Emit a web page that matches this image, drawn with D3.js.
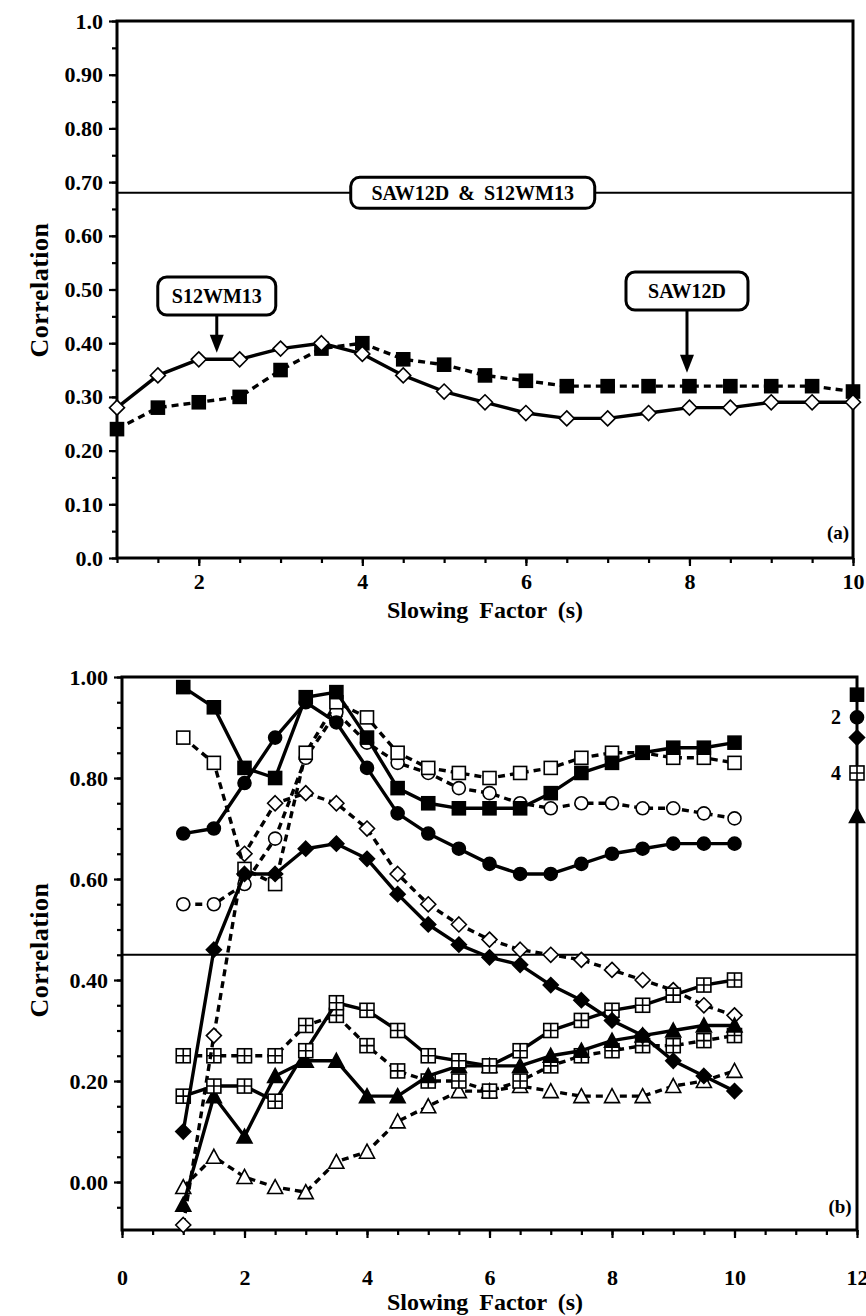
<!DOCTYPE html>
<html>
<head>
<meta charset="utf-8">
<script src="https://cdn.jsdelivr.net/npm/d3@7"></script>
<style>
  body { margin: 0; background: #fff; }
  svg text { font-family: "Liberation Serif", "DejaVu Serif", serif; font-weight: bold; fill: #000; }
</style>
</head>
<body>
<script>
// ---- data ----
var slowing = [1, 1.5, 2, 2.5, 3, 3.5, 4, 4.5, 5, 5.5, 6, 6.5, 7, 7.5, 8, 8.5, 9, 9.5, 10];

// panel (a)
var saw12d  = [0.24, 0.28, 0.29, 0.30, 0.35, 0.39, 0.40, 0.37, 0.36, 0.34, 0.33, 0.32, 0.32, 0.32, 0.32, 0.32, 0.32, 0.32, 0.31];
var s12wm13 = [0.28, 0.34, 0.37, 0.37, 0.39, 0.40, 0.38, 0.34, 0.31, 0.29, 0.27, 0.26, 0.26, 0.27, 0.28, 0.28, 0.29, 0.29, 0.29];
var bothLevel = 0.68;
var topYTicks = [0, 0.1, 0.2, 0.3, 0.4, 0.5, 0.6, 0.7, 0.8, 0.9, 1.0];
var topXTicks = [2, 4, 6, 8, 10];

// panel (b)
var filledSq   = [0.98, 0.94, 0.82, 0.80, 0.96, 0.97, 0.88, 0.78, 0.75, 0.74, 0.74, 0.74, 0.77, 0.81, 0.83, 0.85, 0.86, 0.86, 0.87];
var openSq     = [0.88, 0.83, 0.62, 0.59, 0.85, 0.95, 0.92, 0.85, 0.82, 0.81, 0.80, 0.81, 0.82, 0.84, 0.85, 0.85, 0.84, 0.84, 0.83];
var filledCirc = [0.69, 0.70, 0.79, 0.88, 0.95, 0.91, 0.82, 0.73, 0.69, 0.66, 0.63, 0.61, 0.61, 0.63, 0.65, 0.66, 0.67, 0.67, 0.67];
var openCirc   = [0.55, 0.55, 0.59, 0.68, 0.84, 0.93, 0.87, 0.83, 0.81, 0.78, 0.77, 0.75, 0.74, 0.75, 0.75, 0.74, 0.74, 0.73, 0.72];
var filledDia  = [0.10, 0.46, 0.61, 0.61, 0.66, 0.67, 0.64, 0.57, 0.51, 0.47, 0.445, 0.43, 0.39, 0.36, 0.32, 0.29, 0.24, 0.21, 0.18];
var openDia    = [-0.085, 0.29, 0.65, 0.75, 0.77, 0.75, 0.70, 0.61, 0.55, 0.51, 0.48, 0.46, 0.45, 0.44, 0.42, 0.40, 0.38, 0.35, 0.33];
var crossSolid = [0.17, 0.19, 0.19, 0.16, 0.26, 0.355, 0.34, 0.30, 0.25, 0.24, 0.23, 0.26, 0.30, 0.32, 0.34, 0.35, 0.37, 0.39, 0.40];
var crossDash  = [0.25, 0.25, 0.25, 0.25, 0.31, 0.33, 0.27, 0.22, 0.20, 0.20, 0.18, 0.20, 0.23, 0.25, 0.26, 0.27, 0.27, 0.28, 0.29];
var filledTri  = [-0.045, 0.17, 0.09, 0.21, 0.24, 0.24, 0.17, 0.17, 0.21, 0.23, 0.23, 0.23, 0.25, 0.26, 0.28, 0.29, 0.30, 0.31, 0.31];
var openTri    = [-0.01, 0.05, 0.01, -0.01, -0.02, 0.04, 0.06, 0.12, 0.15, 0.18, 0.18, 0.19, 0.18, 0.17, 0.17, 0.17, 0.19, 0.20, 0.22];
var refLevel = 0.45;
var botYTicks = [0, 0.2, 0.4, 0.6, 0.8, 1.0];
var botXTicks = [0, 2, 4, 6, 8, 10, 12];

// markers standing on the right edge of panel (b)
var edgeValues = [0.965, 0.92, 0.88, 0.81, 0.725];
var edgeShapes = ["sqFill", "circFill", "diaFill", "cross", "triFill"];
var edgeLabels = ["", "2", "", "4", ""];

// ---- page ----
var svg = d3.select("body").append("svg").attr("width", 866).attr("height", 1316);

function marker(g, type, x, y) {
    if (type == "sqFill" || type == "sqOpen") {
        g.append("rect").attr("x", x - 6.5).attr("y", y - 6.5).attr("width", 13).attr("height", 13)
            .attr("fill", type == "sqFill" ? "#000" : "#fff").attr("stroke", "#000").attr("stroke-width", 1.6);
    } else if (type == "circFill" || type == "circOpen") {
        g.append("circle").attr("cx", x).attr("cy", y).attr("r", 6.5)
            .attr("fill", type == "circFill" ? "#000" : "#fff").attr("stroke", "#000").attr("stroke-width", 1.6);
    } else if (type == "diaFill" || type == "diaOpen") {
        var r = 7.5;
        g.append("path").attr("d", "M" + x + "," + (y - r) + "L" + (x + r) + "," + y + "L" + x + "," + (y + r) + "L" + (x - r) + "," + y + "Z")
            .attr("fill", type == "diaFill" ? "#000" : "#fff").attr("stroke", "#000").attr("stroke-width", 1.6);
    } else if (type == "triFill" || type == "triOpen") {
        var h = 13, w = 15;
        g.append("path").attr("d", "M" + x + "," + (y - h / 2 - 1) + "L" + (x + w / 2) + "," + (y + h / 2) + "L" + (x - w / 2) + "," + (y + h / 2) + "Z")
            .attr("fill", type == "triFill" ? "#000" : "#fff").attr("stroke", "#000").attr("stroke-width", 1.6);
    } else if (type == "cross") {
        g.append("rect").attr("x", x - 7).attr("y", y - 7).attr("width", 14).attr("height", 14)
            .attr("fill", "#fff").attr("stroke", "#000").attr("stroke-width", 1.6);
        g.append("path").attr("d", "M" + (x - 7) + "," + y + "H" + (x + 7) + "M" + x + "," + (y - 7) + "V" + (y + 7))
            .attr("stroke", "#000").attr("stroke-width", 1.6);
    }
}

function series(g, x, y, values, type, dashed) {
    var pts = slowing.map(function(s, i) { return [x(s), y(values[i])]; });
    g.append("path")
        .attr("d", d3.line()(pts))
        .attr("fill", "none")
        .attr("stroke", "#000")
        .attr("stroke-width", 3.4)
        .attr("stroke-linejoin", "round")
        .attr("stroke-dasharray", dashed ? "7,5" : null);
    pts.forEach(function(p) { marker(g, type, p[0], p[1]); });
}

function frame(x, y, yMajor, yMinor, xMajor, xMinor, yFmt, labelGap) {
    var r = x.range(), d = y.range();
    var g = svg.append("g");
    // left axis with minor ticks
    g.append("g").attr("transform", "translate(" + r[0] + ",0)")
        .call(d3.axisLeft(y).tickValues(yMinor).tickSize(5).tickFormat(""));
    g.append("g").attr("transform", "translate(" + r[0] + ",0)")
        .call(d3.axisLeft(y).tickValues(yMajor).tickSize(8).tickPadding(6).tickFormat(yFmt));
    // bottom axis
    g.append("g").attr("transform", "translate(0," + d[0] + ")")
        .call(d3.axisBottom(x).tickValues(xMinor).tickSize(5).tickFormat(""));
    g.append("g").attr("transform", "translate(0," + d[0] + ")")
        .call(d3.axisBottom(x).tickValues(xMajor).tickSize(8).tickPadding(labelGap).tickFormat(d3.format("d")));
    g.selectAll(".domain").remove();
    g.selectAll(".tick line").attr("stroke", "#000").attr("stroke-width", 2.2);
    g.selectAll(".tick text").style("font-size", "22px");
    // box
    g.append("rect").attr("x", r[0]).attr("y", d[1]).attr("width", r[1] - r[0]).attr("height", d[0] - d[1])
        .attr("fill", "none").attr("stroke", "#000").attr("stroke-width", 3);
    return g;
}

function range(a, b, step) {
    var out = [];
    for (var v = a; v <= b + 1e-9; v += step) out.push(+v.toFixed(3));
    return out;
}

// ---- panel (a) ----
var xa = d3.scaleLinear().domain([1, 10]).range([117, 853]);
var ya = d3.scaleLinear().domain([0, 1]).range([558, 21]);

frame(xa, ya, topYTicks, range(0, 1, 0.05), topXTicks, range(1, 10, 0.5),
    function(d) { return (d == 0 || d == 1) ? d.toFixed(1) : d.toFixed(2); }, 7);

svg.append("line").attr("x1", xa(1)).attr("x2", xa(10)).attr("y1", ya(bothLevel)).attr("y2", ya(bothLevel))
    .attr("stroke", "#000").attr("stroke-width", 2);

var ga = svg.append("g");
series(ga, xa, ya, saw12d, "sqFill", true);
series(ga, xa, ya, s12wm13, "diaOpen", false);

function callout(cx, cy, w, h, label, arrowTo) {
    if (arrowTo) {
        svg.append("line").attr("x1", cx).attr("x2", cx).attr("y1", cy + h / 2).attr("y2", arrowTo - 12)
            .attr("stroke", "#000").attr("stroke-width", 3);
        svg.append("path").attr("d", "M" + (cx - 7) + "," + (arrowTo - 18) + "L" + (cx + 7) + "," + (arrowTo - 18) + "L" + cx + "," + arrowTo + "Z")
            .attr("fill", "#000");
    }
    svg.append("rect").attr("x", cx - w / 2).attr("y", cy - h / 2).attr("width", w).attr("height", h)
        .attr("rx", 9).attr("fill", "#fff").attr("stroke", "#000").attr("stroke-width", 3);
    svg.append("text").attr("x", cx).attr("y", cy + 7).attr("text-anchor", "middle")
        .style("font-size", "20px").style("word-spacing", "4px").text(label);
}
callout(xa(5.35), ya(bothLevel), 244, 31, "SAW12D & S12WM13");
callout(xa(2.22), 296, 118, 38, "S12WM13", ya(0.382));
callout(xa(7.97), 291, 122, 38, "SAW12D", ya(0.345));

svg.append("text").attr("x", 838).attr("y", 539).attr("text-anchor", "middle").style("font-size", "19px").text("(a)");
svg.append("text").attr("transform", "translate(48,290) rotate(-90)").attr("text-anchor", "middle")
    .style("font-size", "26px").style("letter-spacing", "0.5px").text("Correlation");
svg.append("text").attr("x", 485).attr("y", 618).attr("text-anchor", "middle").style("font-size", "24px")
    .style("word-spacing", "5px").text("Slowing Factor (s)");

// ---- panel (b) ----
var xb = d3.scaleLinear().domain([0, 12]).range([122, 857]);
var yb = d3.scaleLinear().domain([-0.095, 1.0]).range([1230, 677]);

frame(xb, yb, botYTicks, range(-0.05, 1, 0.05), botXTicks, range(0, 12, 0.5),
    function(d) { return d.toFixed(2); }, 31);

svg.append("line").attr("x1", xb(0)).attr("x2", xb(12)).attr("y1", yb(refLevel)).attr("y2", yb(refLevel))
    .attr("stroke", "#000").attr("stroke-width", 2);

var gb = svg.append("g");
series(gb, xb, yb, openTri, "triOpen", true);
series(gb, xb, yb, crossDash, "cross", true);
series(gb, xb, yb, openDia, "diaOpen", true);
series(gb, xb, yb, openCirc, "circOpen", true);
series(gb, xb, yb, openSq, "sqOpen", true);
series(gb, xb, yb, filledTri, "triFill", false);
series(gb, xb, yb, crossSolid, "cross", false);
series(gb, xb, yb, filledDia, "diaFill", false);
series(gb, xb, yb, filledCirc, "circFill", false);
series(gb, xb, yb, filledSq, "sqFill", false);

edgeValues.forEach(function(v, i) {
    marker(svg, edgeShapes[i], xb(12), yb(v));
    if (edgeLabels[i]) {
        svg.append("text").attr("x", xb(12) - 21).attr("y", yb(v) + 7).attr("text-anchor", "middle")
            .style("font-size", "20px").text(edgeLabels[i]);
    }
});

svg.append("text").attr("x", 840).attr("y", 1213).attr("text-anchor", "middle").style("font-size", "19px").text("(b)");
svg.append("text").attr("transform", "translate(48,950) rotate(-90)").attr("text-anchor", "middle")
    .style("font-size", "26px").style("letter-spacing", "0.5px").text("Correlation");
svg.append("text").attr("x", 485).attr("y", 1310).attr("text-anchor", "middle").style("font-size", "24px")
    .style("word-spacing", "5px").text("Slowing Factor (s)");
</script>
</body>
</html>
